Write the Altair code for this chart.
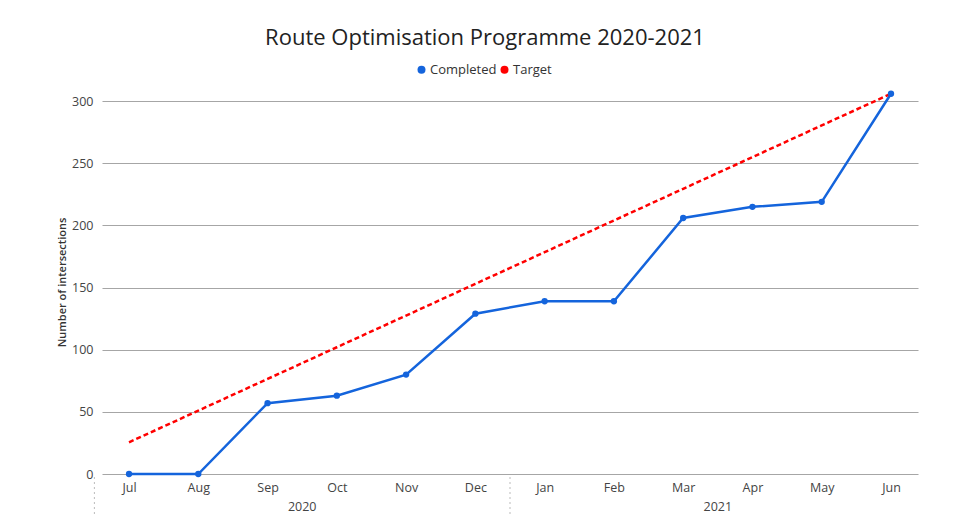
import altair as alt
import pandas as pd

# ---- data ----
months = ["Jul", "Aug", "Sep", "Oct", "Nov", "Dec", "Jan", "Feb", "Mar", "Apr", "May", "Jun"]
years = ["2020"] * 6 + ["2021"] * 6
completed = [0, 0, 57, 63, 80, 129, 139, 139, 206, 215, 219, 306]
target = [25.5, 51, 76.5, 102, 127.5, 153, 178.5, 204, 229.5, 255, 280.5, 306]
series_names = ["Completed", "Target"]
series_colors = ["#1464DC", "#FF0000"]
y_ticks = [0, 50, 100, 150, 200, 250, 300]

rows = []
for i, (m, yr, c, t) in enumerate(zip(months, years, completed, target)):
    rows.append(dict(idx=i, month=m, year=yr, series="Completed", value=c))
    rows.append(dict(idx=i, month=m, year=yr, series="Target", value=t))
df = pd.DataFrame(rows)

yr_rows = []
for yr in sorted(set(years)):
    ids = [i for i, y in enumerate(years) if y == yr]
    yr_rows.append(dict(year=yr, mid=sum(ids) / len(ids), start=min(ids) - 0.5))
year_df = pd.DataFrame(yr_rows)

pad = 0.39
x_scale = alt.Scale(domain=[-pad, len(months) - 1 + pad], nice=False, zero=False)
y_scale = alt.Scale(domain=[0, 309], nice=False)
label_expr = "[" + ",".join("'%s'" % m for m in months) + "][datum.value]"

x_axis = alt.Axis(values=list(range(len(months))), labelExpr=label_expr,
                  grid=False, domain=False, ticks=False, labelPadding=7,
                  labelFontSize=12.5, labelColor="#444", title=None)
y_axis = alt.Axis(values=y_ticks, grid=True, gridColor="#A6A6A6", gridWidth=1.2,
                  domain=False, ticks=False, labelPadding=9, labelFontSize=12.5,
                  labelColor="#444", title="Number of intersections",
                  titleFontSize=11, titleFontWeight=600, titleColor="#333",
                  titlePadding=4)

W, H = 816, 384
FONT = "Open Sans"

base = alt.Chart(df)
enc_x = alt.X("idx:Q", scale=x_scale, axis=x_axis)
enc_y = alt.Y("value:Q", scale=y_scale, axis=y_axis)

line_completed = base.transform_filter(alt.datum.series == series_names[0]).mark_line(
    strokeWidth=2.5, color=series_colors[0]
).encode(x=enc_x, y=enc_y)

line_target = base.transform_filter(alt.datum.series == series_names[1]).mark_line(
    strokeWidth=2.5, color=series_colors[1], strokeDash=[5, 3]
).encode(x=enc_x, y=enc_y)

points = base.transform_filter(alt.datum.series == series_names[0]).mark_circle(
    size=40, opacity=1
).encode(
    x=enc_x,
    y=enc_y,
    color=alt.Color("series:N", scale=alt.Scale(domain=series_names, range=series_colors),
                    legend=alt.Legend(orient="none", legendX=313, legendY=-27,
                                      direction="horizontal", title=None,
                                      symbolType="circle", symbolSize=64,
                                      labelFontSize=13, labelColor="#333",
                                      labelOffset=2, columnPadding=1)),
)

year_text = alt.Chart(year_df).mark_text(fontSize=12.5, color="#444", baseline="middle").encode(
    x=alt.X("mid:Q", scale=x_scale, axis=x_axis),
    y=alt.value(417),
    text="year:N",
)

seps = alt.Chart(year_df).mark_rule(strokeDash=[2, 3], color="#BBBBBB", strokeWidth=1).encode(
    x=alt.X("start:Q", scale=x_scale, axis=x_axis),
    y=alt.value(387),
    y2=alt.value(432),
)

chart = alt.layer(line_completed, line_target, points, year_text, seps).properties(
    width=W, height=H,
    title=alt.TitleParams("Route Optimisation Programme 2020-2021", fontSize=22,
                          fontWeight="normal", color="#222", anchor="middle",
                          frame="group", dx=-25, offset=13),
    autosize=alt.AutoSizeParams(type="none"),
    padding={"left": 94, "top": 82, "right": 44, "bottom": 40},
).configure(font=FONT, background="white").configure_view(stroke=None)

chart.save("out.html", embed_options={"renderer": "svg", "actions": False})
